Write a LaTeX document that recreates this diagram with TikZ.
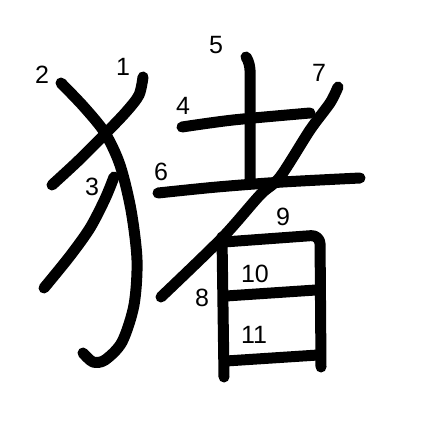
\documentclass[tikz,border=0pt]{standalone}
\usepackage{fontspec}
\setmainfont{Liberation Sans}
\usetikzlibrary{positioning}

\begin{document}
\begin{tikzpicture}[x=1pt,y=-1pt,line width=11pt,line cap=round,line join=round,
    num/.style={inner sep=0pt,font=\fontsize{25}{25}\selectfont}]
    \useasboundingbox[fill=white] (0,0) rectangle (447,447);

    % strokes
    \draw plot[smooth] coordinates {(143,77) (139,95) (126,112) (105,134) (78,161) (52,185)};
    \draw plot[smooth] coordinates {(61,83) (84,107) (105,133) (120,165) (131,210) (137,260) (134,305) (122,342) (105,360) (93,362) (83,353)};
    \draw plot[smooth] coordinates {(114,177) (105,199) (90,228) (70,256) (44,288)};
    \draw plot[smooth] coordinates {(182,127) (233,120) (310,113)};
    \draw plot[smooth] coordinates {(246,57) (250,70) (250,120) (250,182)};
    \draw plot[smooth] coordinates {(158,193) (217,187) (283,182) (360,178)};
    \draw plot[smooth] coordinates {(338,87) (330,103) (310,130) (280,177) (260,195) (222,238) (161,297)};
    \draw (222,237) -- (224,377);
    \draw[rounded corners=9pt] (224,242) -- (320,235) -- (321,367);
    \draw (226,296) -- (316,290);
    \draw (226,361) -- (318,355);

    % numbers
    \node[num] (n1) at (123,67) {1};
    \node[num] (n2) at (42,75) {2};
    \node[num] (n3) at (92,187) {3};
    \node[num] (n4) at (183,106) {4};
    \node[num] (n5) at (216,45) {5};
    \node[num] (n6) at (161,172) {6};
    \node[num] (n7) at (319,73) {7};
    \node[num] (n8) at (202,298) {8};
    \node[num] (n9) at (283,217) {9};
    \node[num] (n10) at (255,274) {10};
    \node[num] (n11) at (254,335) {11};
\end{tikzpicture}
\end{document}
